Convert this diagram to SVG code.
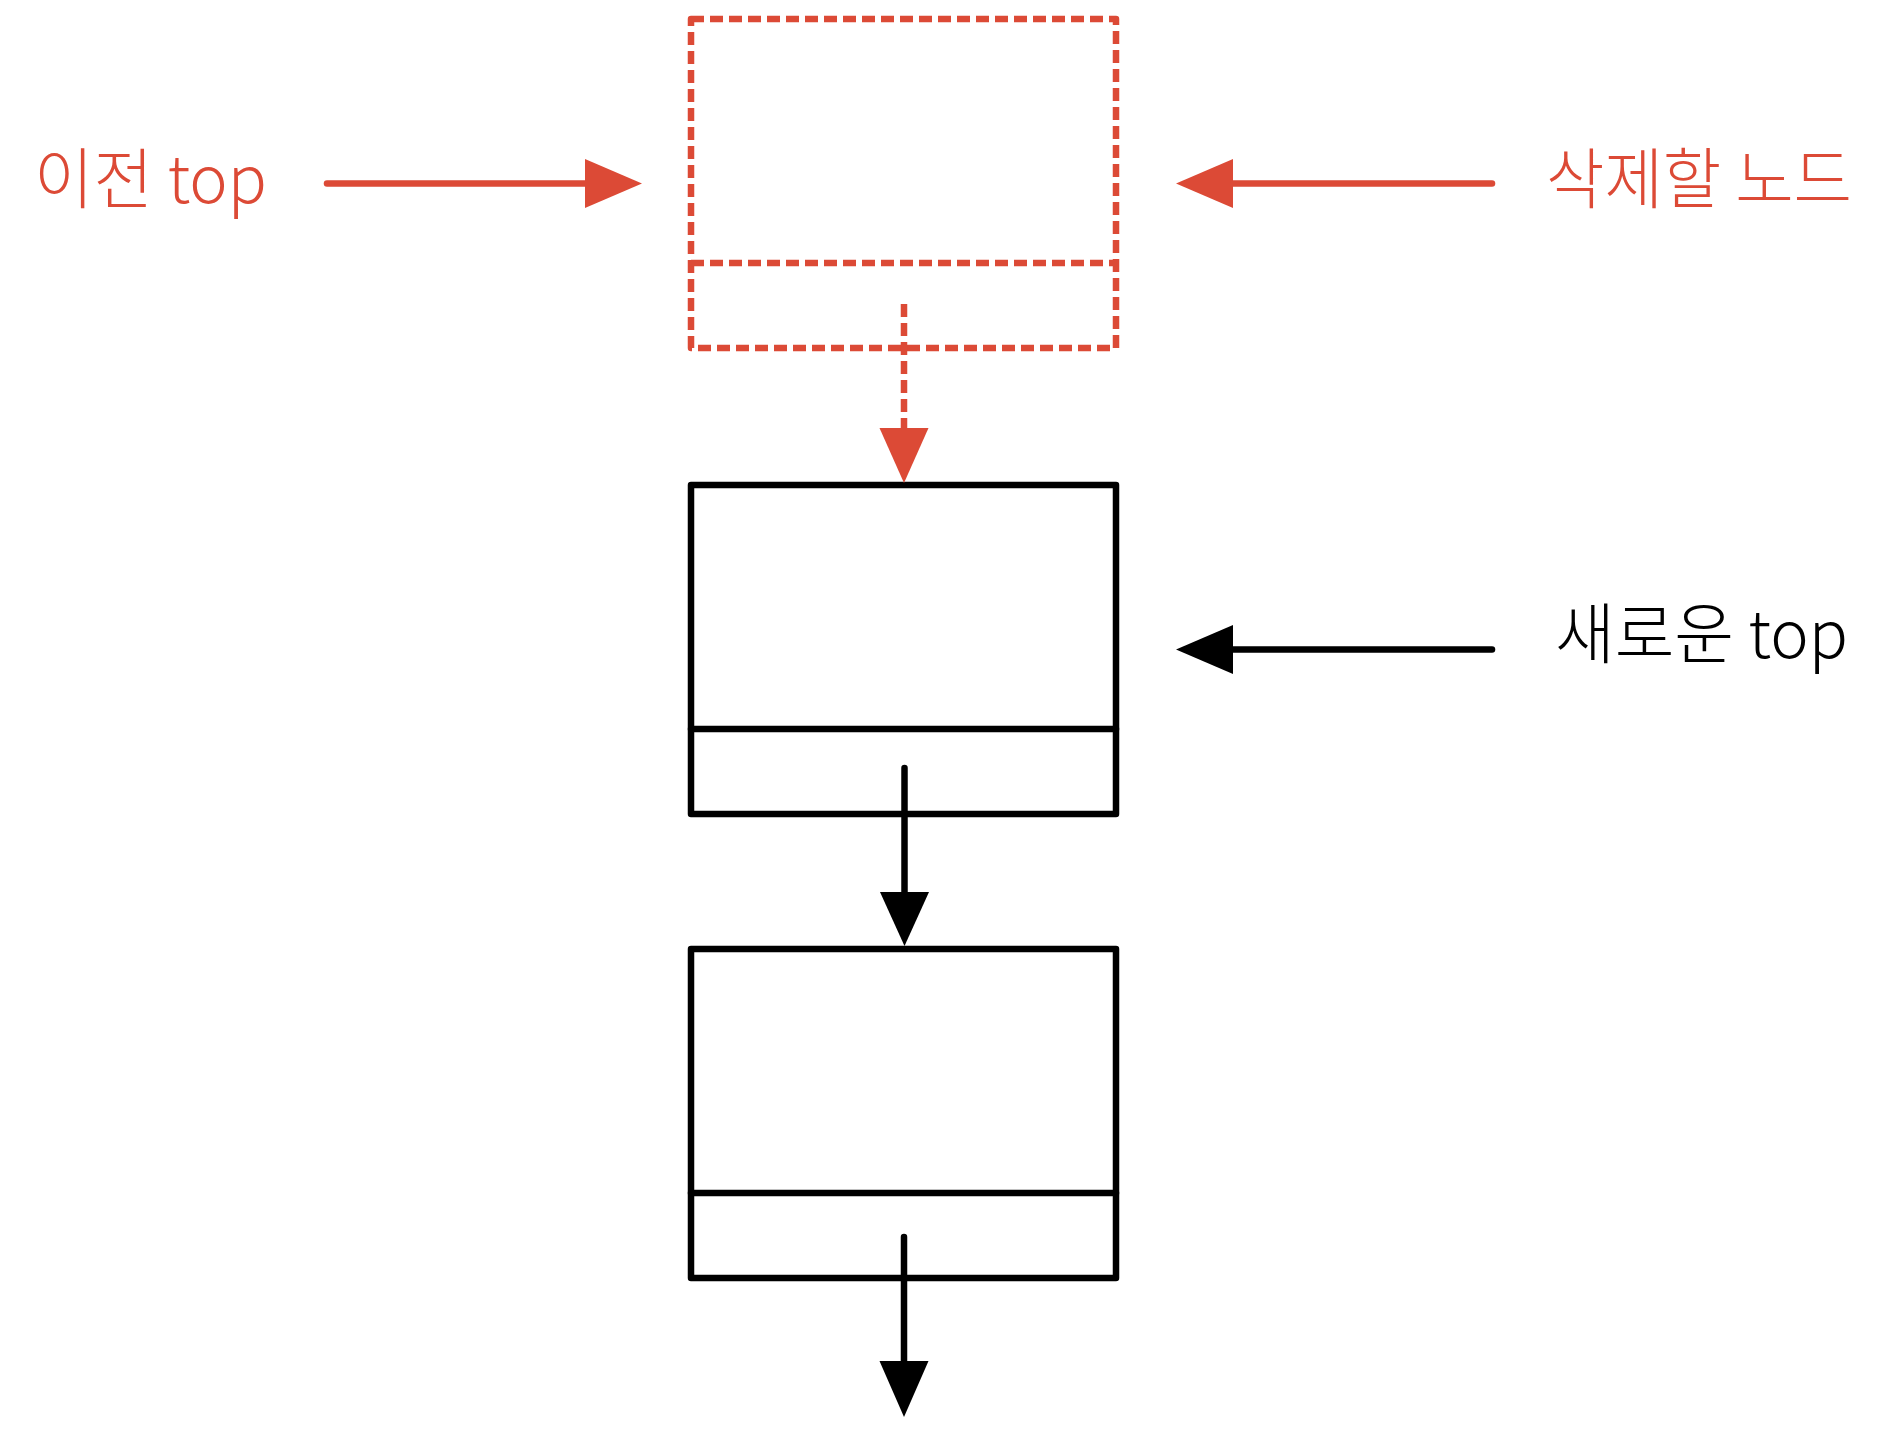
<svg xmlns="http://www.w3.org/2000/svg" width="1893" height="1441" viewBox="0 0 1893 1441">
<style>
.red{stroke:#DC4A36;fill:none}
.blk{stroke:#000;fill:none}
.ln{stroke-width:6.5;stroke-linecap:round;stroke-linejoin:round}
.dash{stroke-width:6.5;stroke-dasharray:13 6;stroke-linejoin:round}
.lbl{font-family:"Noto Sans CJK KR","Noto Sans",sans-serif;font-size:66px;font-weight:300}
</style>
<rect width="1893" height="1441" fill="#fff"/>
<g id="node-deleted">
<rect class="red dash" x="691" y="19" width="425" height="329"/>
<line class="red dash" x1="691" y1="263" x2="1116" y2="263"/>
</g>
<g id="node-new-top">
<rect class="blk ln" x="691" y="485" width="425" height="329"/>
<line class="blk ln" x1="691" y1="729" x2="1116" y2="729"/>
</g>
<g id="node-next">
<rect class="blk ln" x="691" y="949" width="425" height="329"/>
<line class="blk ln" x1="691" y1="1193" x2="1116" y2="1193"/>
</g>
<g id="connectors">
<line class="red ln" x1="327" y1="183.5" x2="590" y2="183.5"/>
<polygon points="585,159 642,183.5 585,208" fill="#DC4A36"/>
<line class="red ln" x1="1492" y1="183.5" x2="1228" y2="183.5"/>
<polygon points="1176,183.5 1233,159 1233,208" fill="#DC4A36"/>
<line class="red dash" x1="904" y1="304" x2="904" y2="430"/>
<polygon points="879.5,428 928.5,428 904,483" fill="#DC4A36"/>
<line class="blk ln" x1="904.5" y1="768" x2="904.5" y2="895"/>
<polygon points="880,892 929,892 904.5,946" fill="#000"/>
<line class="blk ln" x1="904" y1="1237" x2="904" y2="1364"/>
<polygon points="879.5,1361 928.5,1361 904,1417" fill="#000"/>
<line class="blk ln" x1="1492" y1="649.5" x2="1228" y2="649.5"/>
<polygon points="1176,649.5 1233,625 1233,674" fill="#000"/>
</g>
<g id="labels">
<text class="lbl" x="34" y="203" fill="#DC4A36" textLength="233" lengthAdjust="spacingAndGlyphs">이전 top</text>
<text class="lbl" x="1546" y="203" fill="#DC4A36" textLength="306" lengthAdjust="spacingAndGlyphs">삭제할 노드</text>
<text class="lbl" x="1555" y="658" fill="#000" textLength="293" lengthAdjust="spacingAndGlyphs">새로운 top</text>
</g>
</svg>
